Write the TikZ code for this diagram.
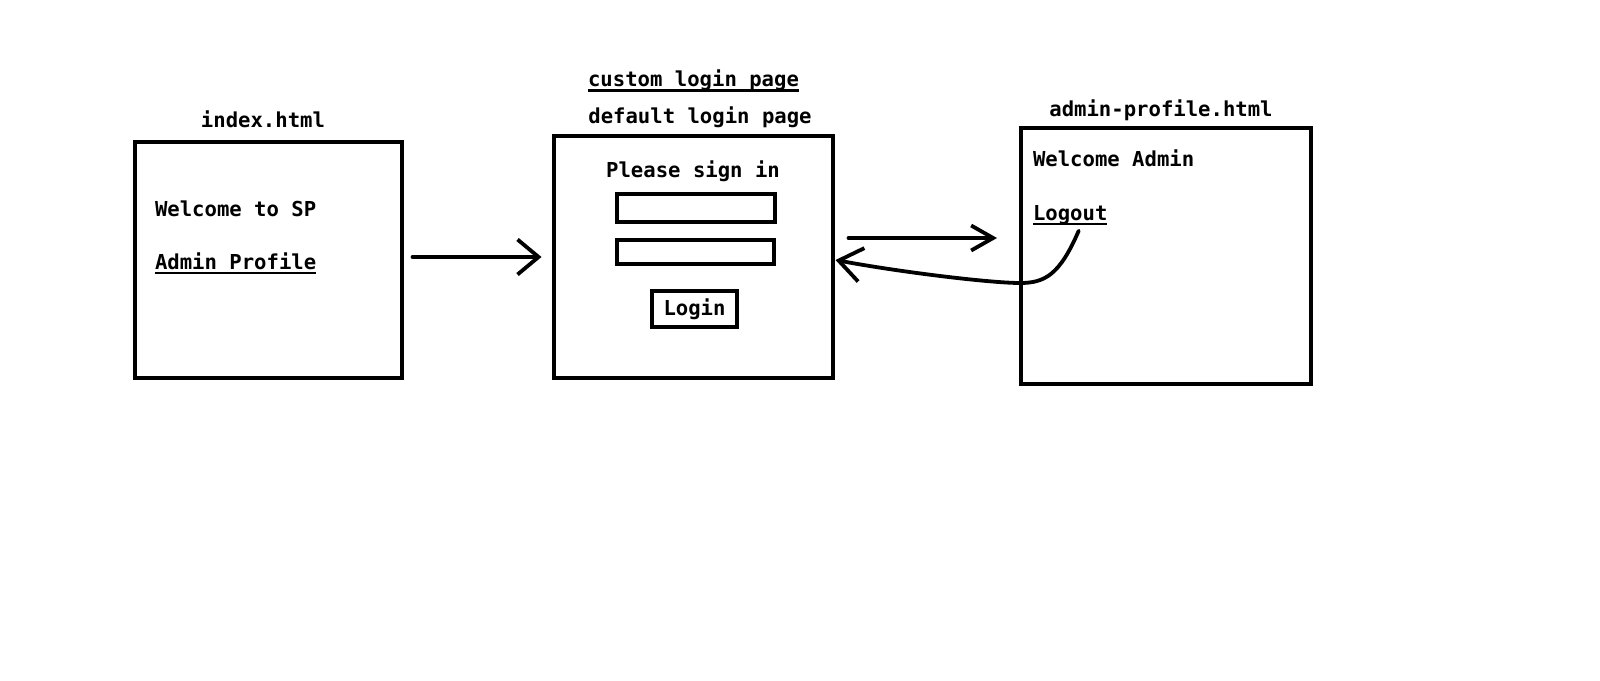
\documentclass[tikz,border=0pt]{standalone}
\usepackage{fontspec}
\setmonofont{DejaVu Sans Mono}
\usetikzlibrary{arrows.meta}
\begin{document}
\begin{tikzpicture}[x=1pt,y=-1pt,
  every node/.style={font=\ttfamily\bfseries\fontsize{20.6pt}{25pt}\selectfont, inner sep=0pt, outer sep=0pt},
  pagebox/.style={draw, line width=4pt},
  fieldbox/.style={draw, line width=4pt},
  uline/.style={line width=2.5pt},
  arr/.style={line width=3.8pt, line cap=round}]
\useasboundingbox (0,0) rectangle (1600,680);

% pages
\node[pagebox, minimum width=267pt, minimum height=236pt] (index) at (268,260) {};
\node[pagebox, minimum width=279pt, minimum height=242pt] (login) at (693,257) {};
\node[pagebox, minimum width=290pt, minimum height=256pt] (admin) at (1166,256) {};

% titles
\node[anchor=base] (indextitle) at (263,127) {index.html};
\node[anchor=base] (customtitle) at (693.5,86) {custom login page};
\node[anchor=base] (defaulttitle) at (700,123) {default login page};
\node[anchor=base] (admintitle) at (1161,116) {admin-profile.html};
\draw[uline] ([yshift=-4.7pt]customtitle.base west) -- ([yshift=-4.7pt]customtitle.base east);

% index contents
\node[anchor=base west] (welcomesp) at (155,216) {Welcome to SP};
\node[anchor=base west] (adminlink) at (155,269) {Admin Profile};
\draw[uline] ([yshift=-4pt]adminlink.base west) -- ([yshift=-4pt]adminlink.base east);

% login contents
\node[anchor=base] (signin) at (693,177) {Please sign in};
\node[fieldbox, minimum width=158pt, minimum height=28pt] (field1) at (696,208) {};
\node[fieldbox, minimum width=157pt, minimum height=24pt] (field2) at (695.5,251.7) {};
\node[fieldbox, minimum width=85pt, minimum height=36pt] (loginbtn) at (694.5,309) {Login};

% admin contents
\node[anchor=base west] (welcomeadmin) at (1033,166) {Welcome Admin};
\node[anchor=base west] (logout) at (1033,220) {Logout};
\draw[uline] ([yshift=-4pt]logout.base west) -- ([yshift=-4pt]logout.base east);

% connectors
\draw[arr, -{Straight Barb[length=21pt,width=35pt,line width=3.8pt]}]
  ([xshift=11pt,yshift=3pt]index.east) -- ([xshift=-12pt]login.west);
\draw[arr, -{Straight Barb[length=22pt,width=25pt,line width=3.8pt]}]
  ([xshift=16pt,yshift=19pt]login.east) -- ([xshift=-24pt,yshift=18pt]admin.west);
\coordinate (bend) at (1020,283);
\draw[arr, -{Straight Barb[length=23pt,width=34pt,line width=3.8pt]}]
  ([xshift=8.5pt,yshift=-6.5pt]logout.south) .. controls +(-19,44) and +(25,0) .. (bend)
  .. controls +(-30,0) and +(64,12) .. ([xshift=3pt,yshift=-3pt]login.east);
\end{tikzpicture}
\end{document}
